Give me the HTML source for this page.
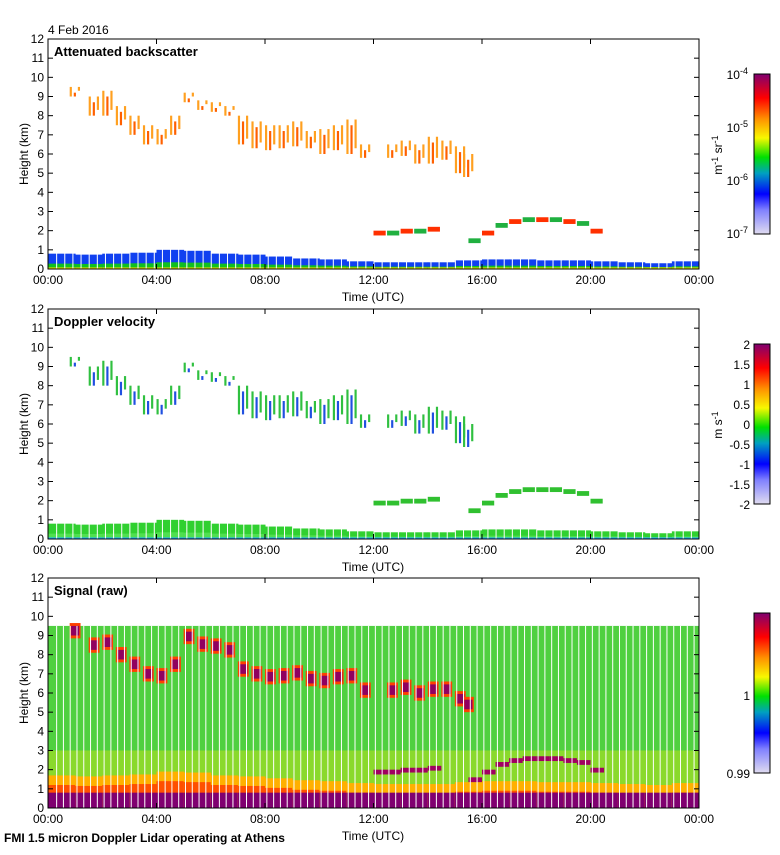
<!DOCTYPE html>
<html><head><meta charset="utf-8">
<style>
body{margin:0;background:#fff;}
svg text{font-family:"Liberation Sans",sans-serif;font-size:12px;fill:#000;}
.t{font-weight:bold;font-size:13px;}
</style></head>
<body>
<svg id="c" width="780" height="850" xmlns="http://www.w3.org/2000/svg">
<defs>
<linearGradient id="jet" x1="0" y1="1" x2="0" y2="0">
<stop offset="0" stop-color="#e0dcf0"/><stop offset="0.15" stop-color="#8080ff"/>
<stop offset="0.25" stop-color="#0000ff"/><stop offset="0.38" stop-color="#00a0c0"/>
<stop offset="0.48" stop-color="#00e000"/><stop offset="0.6" stop-color="#f8f800"/>
<stop offset="0.72" stop-color="#ff9000"/><stop offset="0.85" stop-color="#ff0000"/>
<stop offset="1" stop-color="#800070"/>
</linearGradient>
</defs>
<text x="48" y="34">4 Feb 2016</text>
<text x="4" y="842" style="font-weight:bold;font-size:12px">FMI 1.5 micron Doppler Lidar operating at Athens</text>
</svg>
<script>
const xTickLabels=["00:00","04:00","08:00","12:00","16:00","20:00","00:00"];
const yTickLabels=[0,1,2,3,4,5,6,7,8,9,10,11,12];
const cirrusTime=[0.8,1.5,2,2.5,3,3.5,4,4.5,5,5.5,6,6.5,7,7.5,8,8.5,9,9.5,10,10.5,11,11.5,12.5,13,13.5,14,14.5,15,15.3];
const cirrusTop=[9.5,9,9.3,8.5,8,7.5,7.3,8,9.2,8.8,8.7,8.5,8,7.7,7.5,7.5,7.7,7.2,7.3,7.5,7.8,6.5,6.5,6.7,6.5,6.9,6.7,6.4,6];
const cirrusBase=[9,8,8,7.5,7,6.5,6.5,7,8.7,8.3,8.2,8,6.5,6.3,6.2,6.3,6.4,6.3,6,6.2,6,5.8,5.8,5.9,5.5,5.5,5.7,5,4.8];
const blHour=[0,1,2,3,4,5,6,7,8,9,10,11,12,13,14,15,16,17,18,19,20,21,22,23,24];
const blTop=[0.8,0.75,0.8,0.85,1.0,0.95,0.8,0.75,0.65,0.55,0.5,0.4,0.35,0.35,0.35,0.45,0.5,0.5,0.45,0.45,0.4,0.35,0.3,0.4,0.7];
const midTime=[12,12.5,13,13.5,14,15.5,16,16.5,17,17.5,18,18.5,19,19.5,20];
const midBase=[1.85,1.85,1.9,1.9,2.0,1.2,1.6,1.9,2.2,2.3,2.3,2.2,2.0,1.8,1.6];
const midTop=[2.0,2.0,2.1,2.1,2.2,1.6,2.0,2.4,2.6,2.7,2.7,2.7,2.6,2.5,2.1];
const panels=[{y0:39,title:"Attenuated backscatter"},{y0:309,title:"Doppler velocity"},{y0:578,title:"Signal (raw)"}];
const svg=document.getElementById('c');const NS="http://www.w3.org/2000/svg";
const X0=48,X1=699,H=230;
const xs=h=>X0+h/24*(X1-X0);
function mk(tag,a,p){const e=document.createElementNS(NS,tag);for(const k in a)e.setAttribute(k,a[k]);(p||svg).appendChild(e);return e;}
panels.forEach((p,pi)=>{
  const ys=v=>p.y0+H-v/12*H;
  const g=mk('g',{});
  
  
  if(pi===2){
    mk('rect',{x:X0,y:ys(9.5),width:X1-X0,height:ys(0)-ys(9.5),fill:'#50d040'},g);
    mk('rect',{x:X0,y:ys(3),width:X1-X0,height:ys(0)-ys(3),fill:'#b0e020',opacity:0.6},g);
    for(let i=0;i<blHour.length-1;i++){
      const w=xs(blHour[i+1])-xs(blHour[i])+0.5;
      mk('rect',{x:xs(blHour[i]),y:ys(blTop[i]+0.9),width:w,height:ys(0)-ys(blTop[i]+0.9),fill:'#ffb000'},g);
      mk('rect',{x:xs(blHour[i]),y:ys(blTop[i]+0.4),width:w,height:ys(0)-ys(blTop[i]+0.4),fill:'#ff5000'},g);
      mk('rect',{x:xs(blHour[i]),y:ys(0.8),width:w,height:ys(0)-ys(0.8),fill:'#800070'},g);
    }
    for(let i=0;i<cirrusTime.length;i++){
      const mid=(cirrusTop[i]+cirrusBase[i])/2;
      mk('rect',{x:xs(cirrusTime[i]),y:ys(mid+0.4),width:xs(0.4)-X0,height:ys(0)-ys(0.8),fill:'#ff4000'},g);
      mk('rect',{x:xs(cirrusTime[i]+0.05),y:ys(mid+0.25),width:xs(0.3)-X0,height:ys(0)-ys(0.5),fill:'#900060'},g);
    }
    for(let i=0;i<midTime.length;i++)
      mk('rect',{x:xs(midTime[i]),y:ys(midTop[i]),width:xs(0.5)-X0,height:ys(0)-ys(0.25),fill:'#a00060'},g);
    for(let h=0.3;h<24;h+=0.25) mk('rect',{x:xs(h),y:ys(9.5),width:1,height:ys(0)-ys(9.5),fill:'#fff'},g);
  } else {
    const blc=pi===0?['#1040f0','#10c020','#f0e000']:['#30d030','#50e050','#20b0ff'];
    for(let i=0;i<blHour.length-1;i++){
      const w=xs(blHour[i+1])-xs(blHour[i])+0.5;
      mk('rect',{x:xs(blHour[i]),y:ys(blTop[i]),width:w,height:ys(0)-ys(blTop[i]),fill:blc[0]},g);
      mk('rect',{x:xs(blHour[i]),y:ys(blTop[i]*0.35),width:w,height:ys(0)-ys(blTop[i]*0.35),fill:blc[1]},g);
      mk('rect',{x:xs(blHour[i]),y:ys(0.08),width:w,height:ys(0)-ys(0.08),fill:blc[2]},g);
    }
    for(let h=0.3;h<24;h+=0.3) mk('rect',{x:xs(h),y:ys(1.2),width:1,height:ys(0)-ys(1.2),fill:'#fff'},g);
    for(let i=0;i<cirrusTime.length;i++){
      for(let k=0;k<3;k++){
        const c=pi===0?(k===1?'#ff6000':'#ffa020'):(k===1?'#2050e0':'#30c040');
        const tp=cirrusTop[i]-(k%2)*0.3, bs=cirrusBase[i]+(k===2?0.3:0);
        mk('rect',{x:xs(cirrusTime[i]+k*0.15),y:ys(tp),width:xs(0.08)-X0,height:ys(bs)-ys(tp),fill:c},g);
      }
    }
    for(let i=0;i<midTime.length;i++){
      const c=pi===0?(i%2?'#20b040':'#ff3000'):'#30c030';
      mk('rect',{x:xs(midTime[i]),y:ys(midTop[i]),width:xs(0.45)-X0,height:ys(0)-ys(0.25),fill:c},g);
    }
  }
  mk('rect',{x:X0,y:p.y0,width:X1-X0,height:H,fill:'none',stroke:'#000','stroke-width':1},g);
  yTickLabels.forEach(v=>{
    mk('line',{x1:X0,x2:X0+5,y1:ys(v),y2:ys(v),stroke:'#000'},g);
    mk('line',{x1:X1,x2:X1-5,y1:ys(v),y2:ys(v),stroke:'#000'},g);
    const t=mk('text',{x:X0-4,y:ys(v)+4,'text-anchor':'end'},g);t.textContent=v;
  });
  xTickLabels.forEach((l,i)=>{
    const x=xs(i*4);
    mk('line',{x1:x,x2:x,y1:p.y0+H,y2:p.y0+H-5,stroke:'#000'},g);
    mk('line',{x1:x,x2:x,y1:p.y0,y2:p.y0+5,stroke:'#000'},g);
    const t=mk('text',{x:x,y:p.y0+H+15,'text-anchor':'middle'},g);t.textContent=l;
  });
  const tt=mk('text',{x:X0+6,y:p.y0+17,class:'t'},g);tt.textContent=p.title;
  const xl=mk('text',{x:373,y:p.y0+H+32,'text-anchor':'middle'},g);xl.textContent="Time (UTC)";
  const yl=mk('text',{x:28,y:p.y0+H/2,'text-anchor':'middle',transform:`rotate(-90 28 ${p.y0+H/2})`},g);yl.textContent="Height (km)";
  const cb=mk('rect',{x:754,y:p.y0+35,width:16,height:160,fill:'url(#jet)',stroke:'#000'},g);
  
  
});
function lab(x,y,s,a){const t=mk('text',{x:x,y:y,'text-anchor':a||'end'});t.innerHTML=s;}
lab(748,79,'10<tspan dy="-5" font-size="9">-4</tspan>');
lab(748,132,'10<tspan dy="-5" font-size="9">-5</tspan>');
lab(748,185,'10<tspan dy="-5" font-size="9">-6</tspan>');
lab(748,238,'10<tspan dy="-5" font-size="9">-7</tspan>');
const u1=mk('text',{x:722,y:155,transform:'rotate(-90 722 155)','text-anchor':'middle'});u1.innerHTML='m<tspan dy="-4" font-size="9">-1</tspan><tspan dy="4"> sr</tspan><tspan dy="-4" font-size="9">-1</tspan>';
["2","1.5","1","0.5","0","-0.5","-1","-1.5","-2"].forEach((s,i)=>lab(750,349+i*20,s));
const u2=mk('text',{x:722,y:425,transform:'rotate(-90 722 425)','text-anchor':'middle'});u2.innerHTML='m s<tspan dy="-4" font-size="9">-1</tspan>';
lab(750,700,'1');lab(750,778,'0.99');
</script>
</body></html>
